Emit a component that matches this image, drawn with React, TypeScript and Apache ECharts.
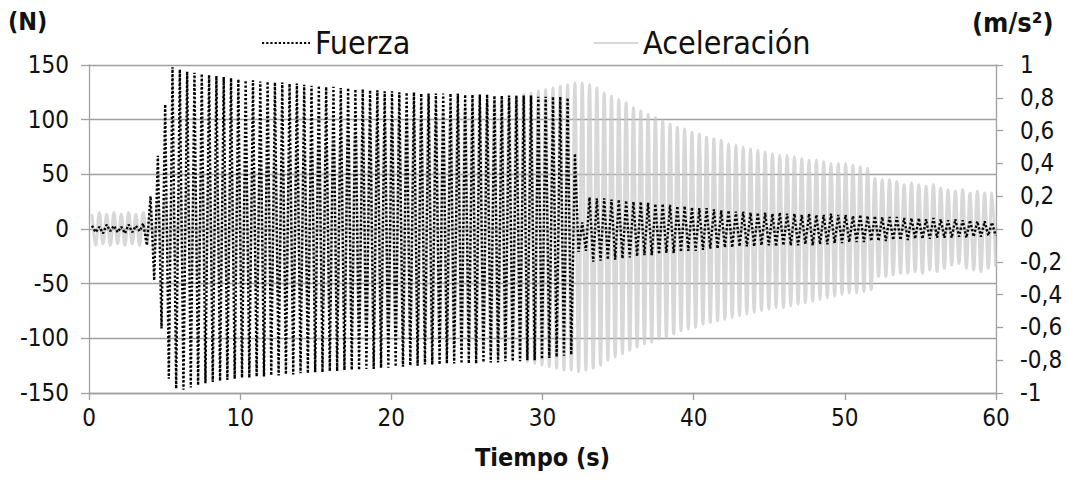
import React, { useEffect, useRef } from "react";
import * as echarts from "echarts";

// Oscillation grid (s): first positive peak and period of one cycle
const T0 = 0.2;
const PERIOD = 0.484;

// Per-cycle peaks
const accMax = [
  0.09, 0.10, 0.09, 0.10, 0.09, 0.10, 0.09, 0.10, 0.12, 0.16,
  0.20, 0.23, 0.26, 0.28, 0.30, 0.31, 0.32, 0.33, 0.34, 0.34,
  0.35, 0.36, 0.37, 0.38, 0.39, 0.40, 0.42, 0.43, 0.45, 0.46,
  0.48, 0.50, 0.51, 0.53, 0.55, 0.56, 0.58, 0.59, 0.60, 0.62,
  0.63, 0.64, 0.65, 0.66, 0.67, 0.68, 0.69, 0.70, 0.71, 0.72,
  0.73, 0.74, 0.75, 0.76, 0.77, 0.78, 0.79, 0.80, 0.81, 0.82,
  0.83, 0.84, 0.85, 0.86, 0.87, 0.88, 0.89, 0.89, 0.88, 0.86,
  0.83, 0.81, 0.79, 0.77, 0.74, 0.72, 0.70, 0.68, 0.66, 0.64,
  0.62, 0.61, 0.59, 0.58, 0.56, 0.55, 0.54, 0.52, 0.51, 0.50,
  0.49, 0.48, 0.47, 0.46, 0.45, 0.45, 0.44, 0.43, 0.42, 0.42,
  0.41, 0.40, 0.40, 0.40, 0.39, 0.38, 0.37, 0.31, 0.30, 0.30,
  0.29, 0.27, 0.28, 0.27, 0.26, 0.27, 0.25, 0.24, 0.23, 0.24,
  0.22, 0.23, 0.22, 0.22,
];
const accMin = [
  -0.10, -0.09, -0.10, -0.09, -0.10, -0.09, -0.10, -0.09, -0.13, -0.17,
  -0.21, -0.24, -0.26, -0.28, -0.30, -0.31, -0.32, -0.33, -0.33, -0.34,
  -0.35, -0.36, -0.37, -0.38, -0.39, -0.40, -0.41, -0.43, -0.44, -0.46,
  -0.47, -0.49, -0.51, -0.52, -0.54, -0.56, -0.57, -0.59, -0.60, -0.61,
  -0.62, -0.63, -0.64, -0.65, -0.66, -0.67, -0.68, -0.69, -0.70, -0.71,
  -0.72, -0.73, -0.74, -0.75, -0.76, -0.77, -0.78, -0.79, -0.80, -0.81,
  -0.82, -0.83, -0.84, -0.85, -0.86, -0.86, -0.87, -0.86, -0.85, -0.83,
  -0.80, -0.78, -0.76, -0.74, -0.72, -0.70, -0.69, -0.67, -0.66, -0.64,
  -0.62, -0.61, -0.60, -0.58, -0.57, -0.56, -0.55, -0.54, -0.53, -0.52,
  -0.51, -0.50, -0.49, -0.48, -0.48, -0.47, -0.46, -0.45, -0.44, -0.43,
  -0.42, -0.41, -0.40, -0.39, -0.39, -0.38, -0.37, -0.29, -0.29, -0.28,
  -0.27, -0.27, -0.26, -0.27, -0.25, -0.26, -0.24, -0.22, -0.21, -0.24,
  -0.25, -0.26, -0.24, -0.23,
];
const fuerzaMax = [
  3, 2, 4, 3, 2, 4, 3, 5, 30, 67,
  114, 148, 146, 144, 143, 142, 141, 140, 139, 138,
  137, 136, 136, 135, 135, 134, 134, 133, 133, 132,
  131, 131, 130, 130, 129, 129, 128, 128, 127, 127,
  126, 126, 125, 125, 125, 124, 124, 124, 124, 124,
  124, 123, 123, 123, 123, 122, 122, 122, 122, 122,
  122, 121, 121, 121, 121, 120, 69, 6, 29, 28,
  28, 27, 27, 26, 25, 25, 24, 23, 23, 22,
  21, 21, 20, 19, 19, 18, 17, 17, 16, 16,
  15, 15, 15, 14, 15, 14, 14, 13, 14, 13,
  13, 14, 13, 13, 12, 13, 12, 12, 11, 11,
  11, 10, 10, 10, 9, 10, 9, 8, 9, 8,
  8, 7, 7, 6,
];
const fuerzaMin = [
  -3, -4, -2, -3, -4, -3, -2, -15, -47, -91,
  -137, -146, -147, -145, -143, -141, -140, -139, -138, -137,
  -136, -136, -135, -135, -134, -134, -133, -133, -132, -132,
  -131, -131, -130, -130, -129, -129, -129, -128, -128, -127,
  -127, -126, -126, -125, -125, -124, -124, -124, -123, -123,
  -123, -123, -123, -122, -122, -122, -121, -121, -121, -120,
  -120, -119, -118, -117, -116, -115, -21, -20, -30, -29,
  -28, -28, -27, -26, -25, -24, -24, -23, -22, -22,
  -21, -20, -20, -19, -18, -18, -17, -17, -16, -16,
  -16, -15, -15, -16, -15, -15, -15, -14, -15, -14,
  -14, -13, -13, -12, -12, -12, -11, -11, -11, -10,
  -10, -10, -9, -9, -9, -8, -8, -8, -7, -8,
  -7, -7, -6, -6,
];

const xTicks = [0, 10, 20, 30, 40, 50, 60];
const leftTicks = [-150, -100, -50, 0, 50, 100, 150];
const rightTicks = [-1, -0.8, -0.6, -0.4, -0.2, 0, 0.2, 0.4, 0.6, 0.8, 1];

const FONT = "'DejaVu Sans Condensed', 'DejaVu Sans', sans-serif";
const AXIS = "#a0a0a0";
const TXT = "#111";

function peaksToSeries(maxs: number[], mins: number[]) {
  const out: number[][] = [];
  for (let i = 0; i < maxs.length; i++) {
    const t = T0 + i * PERIOD;
    out.push([t, maxs[i]]);
    out.push([t + PERIOD / 2, mins[i]]);
  }
  return out;
}

function fmtRight(v: number) {
  const r = Math.round(v * 10) / 10;
  return String(r).replace(".", ",");
}

export default function App() {
  const ref = useRef<HTMLDivElement>(null);
  useEffect(() => {
    if (!ref.current) return;
    const chart = echarts.init(ref.current, undefined, { renderer: "svg" });
    const legendText = { fontFamily: FONT, fontSize: 32, color: TXT };
    chart.setOption({
      animation: false,
      backgroundColor: "#ffffff",
      textStyle: { fontFamily: FONT },
      grid: { left: 89, right: 71, top: 65, bottom: 89, containLabel: false },
      legend: [
        {
          data: ["Fuerza"],
          left: 256,
          top: 22,
          itemWidth: 48,
          itemHeight: 14,
          itemGap: 5,
          selectedMode: false,
          itemStyle: { opacity: 0 },
          textStyle: legendText,
        },
        {
          data: ["Aceleración"],
          left: 588,
          top: 22,
          itemWidth: 44,
          itemHeight: 14,
          selectedMode: false,
          itemStyle: { opacity: 0 },
          textStyle: legendText,
        },
      ],
      xAxis: {
        type: "value",
        min: xTicks[0],
        max: xTicks[xTicks.length - 1],
        interval: 10,
        axisLine: { onZero: false, lineStyle: { color: AXIS, width: 1.3 } },
        axisTick: { show: true, length: 7, lineStyle: { color: AXIS, width: 1.3 } },
        axisLabel: { margin: 13, fontSize: 24, color: TXT, fontFamily: FONT },
        splitLine: { show: false },
        name: "Tiempo (s)",
        nameLocation: "middle",
        nameGap: 52,
        nameTextStyle: { fontFamily: FONT, fontSize: 25, fontWeight: "bold", color: TXT },
      },
      yAxis: [
        {
          type: "value",
          position: "left",
          min: leftTicks[0],
          max: leftTicks[leftTicks.length - 1],
          interval: 50,
          axisLine: { show: true, lineStyle: { color: AXIS, width: 1.3 } },
          axisTick: { show: true, length: 8, lineStyle: { color: AXIS, width: 1.3 } },
          axisLabel: { margin: 20, fontSize: 24, color: TXT, fontFamily: FONT },
          splitLine: { show: true, lineStyle: { color: AXIS, width: 1.3 } },
        },
        {
          type: "value",
          position: "right",
          min: rightTicks[0],
          max: rightTicks[rightTicks.length - 1],
          interval: 0.2,
          axisLine: { show: true, lineStyle: { color: AXIS, width: 1.3 } },
          axisTick: { show: true, length: 7, lineStyle: { color: AXIS, width: 1.3 } },
          axisLabel: { margin: 24, fontSize: 24, color: TXT, fontFamily: FONT, formatter: fmtRight },
          splitLine: { show: false },
        },
      ],
      graphic: [
        {
          type: "text",
          left: 8,
          top: 9,
          style: { text: "(N)", fontFamily: FONT, fontSize: 25, fontWeight: "bold", fill: TXT },
        },
        {
          type: "text",
          left: 972,
          top: 9,
          style: { text: "(m/s²)", fontFamily: FONT, fontSize: 27, fontWeight: "bold", fill: TXT },
        },
      ],
      series: [
        {
          name: "Aceleración",
          type: "line",
          yAxisIndex: 1,
          data: peaksToSeries(accMax, accMin),
          symbol: "none",
          smooth: 0.4,
          z: 1,
          lineStyle: { color: "#c8c8c8", width: 3, opacity: 0.7 },
          itemStyle: { color: "#c8c8c8" },
        },
        {
          name: "Fuerza",
          type: "line",
          yAxisIndex: 0,
          data: peaksToSeries(fuerzaMax, fuerzaMin),
          symbol: "none",
          z: 2,
          lineStyle: { color: "#000000", width: 2.4, type: [2.2, 2] },
          itemStyle: { color: "#000000" },
        },
      ],
    });
    return () => chart.dispose();
  }, []);
  return (
    <div
      ref={ref}
      style={{ position: "fixed", left: 0, top: 0, width: 1067, height: 482, background: "#fff" }}
    />
  );
}
